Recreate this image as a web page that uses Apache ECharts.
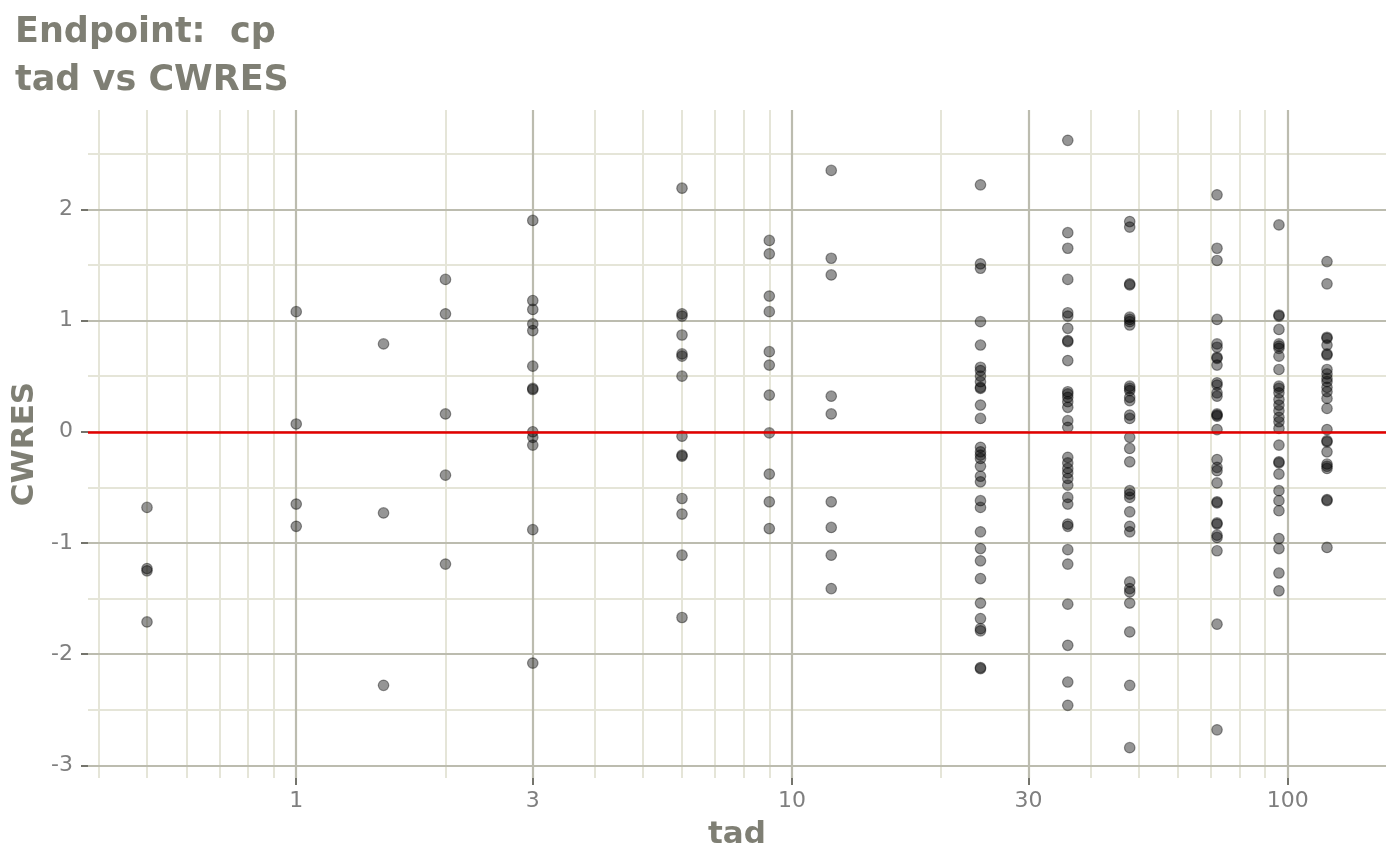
<!DOCTYPE html>
<html>
<head>
<meta charset="utf-8">
<script src="https://cdn.jsdelivr.net/npm/echarts@6/dist/echarts.min.js"></script>
<style>
html,body{margin:0;padding:0;background:#fff;}
#chart{width:1400px;height:865px;}
</style>
</head>
<body>
<div id="chart"></div>
<script>
// ---- data ----
const tadTimes = [0.5, 1, 1.5, 2, 3, 6, 9, 12, 24, 36, 48, 72, 96, 120];
const cwres_0_5 = [-0.68, -1.23, -1.25, -1.71];
const cwres_1 = [1.08, 0.07, -0.65, -0.85];
const cwres_1_5 = [0.79, -0.73, -2.28];
const cwres_2 = [1.37, 1.06, 0.16, -0.39, -1.19];
const cwres_3 = [1.90, 1.18, 1.10, 0.97, 0.91, 0.59, 0.39, 0.38, 0.00, -0.05, -0.12, -0.88, -2.08];
const cwres_6 = [2.19, 1.06, 1.04, 0.87, 0.70, 0.68, 0.50, -0.04, -0.21, -0.22, -0.60, -0.74, -1.11, -1.67];
const cwres_9 = [1.72, 1.60, 1.22, 1.08, 0.72, 0.60, 0.33, -0.01, -0.38, -0.63, -0.87];
const cwres_12 = [2.35, 1.56, 1.41, 0.32, 0.16, -0.63, -0.86, -1.11, -1.41];
const cwres_24 = [2.22, 1.51, 1.47, 0.99, 0.78, 0.58, 0.55, 0.50, 0.45, 0.40, 0.39, 0.24, 0.12, -0.14, -0.18, -0.21, -0.24, -0.31, -0.40, -0.45, -0.62, -0.68, -0.90, -1.05, -1.16, -1.32, -1.54, -1.68, -1.77, -1.79, -2.12, -2.13];
const cwres_36 = [2.62, 1.79, 1.65, 1.37, 1.07, 1.04, 0.93, 0.82, 0.81, 0.64, 0.36, 0.34, 0.31, 0.27, 0.22, 0.10, 0.04, -0.23, -0.28, -0.33, -0.37, -0.42, -0.48, -0.59, -0.65, -0.83, -0.85, -1.06, -1.19, -1.55, -1.92, -2.25, -2.46];
const cwres_48 = [1.89, 1.84, 1.33, 1.32, 1.03, 1.01, 0.99, 0.96, 0.41, 0.39, 0.37, 0.31, 0.28, 0.15, 0.12, -0.05, -0.15, -0.27, -0.53, -0.56, -0.59, -0.72, -0.85, -0.90, -1.35, -1.41, -1.44, -1.54, -1.80, -2.28, -2.84];
const cwres_72 = [2.13, 1.65, 1.54, 1.01, 0.79, 0.76, 0.67, 0.66, 0.60, 0.44, 0.42, 0.35, 0.32, 0.16, 0.15, 0.14, 0.02, -0.25, -0.32, -0.35, -0.46, -0.63, -0.64, -0.82, -0.83, -0.93, -0.95, -1.07, -1.73, -2.68];
const cwres_96 = [1.86, 1.05, 1.04, 0.92, 0.79, 0.77, 0.75, 0.68, 0.56, 0.41, 0.39, 0.35, 0.29, 0.24, 0.19, 0.13, 0.09, 0.03, -0.12, -0.27, -0.28, -0.38, -0.53, -0.62, -0.71, -0.96, -1.05, -1.27, -1.43];
const cwres_120 = [1.53, 1.33, 0.85, 0.84, 0.78, 0.70, 0.69, 0.56, 0.52, 0.48, 0.45, 0.40, 0.36, 0.30, 0.21, 0.02, -0.08, -0.09, -0.18, -0.29, -0.31, -0.33, -0.61, -0.62, -1.04];
const cwresByTime = [cwres_0_5, cwres_1, cwres_1_5, cwres_2, cwres_3, cwres_6, cwres_9, cwres_12, cwres_24, cwres_36, cwres_48, cwres_72, cwres_96, cwres_120];

const xMajorTicks = [1, 3, 10, 30, 100];
const xMinorTicks = [0.4, 0.5, 0.6, 0.7, 0.8, 0.9, 2, 4, 5, 6, 7, 8, 9, 20, 40, 50, 60, 70, 80, 90];
const yMajorTicks = [-3, -2, -1, 0, 1, 2];
const yMinorTicks = [-2.5, -1.5, -0.5, 0.5, 1.5, 2.5];
const refLineY = 0;

// ---- build points ----
const points = [];
tadTimes.forEach((t, i) => cwresByTime[i].forEach(v => points.push([t, v])));

// ranges with 5% expansion (x in log space)
const lx = tadTimes.map(Math.log10);
const lxMin = Math.min(...lx), lxMax = Math.max(...lx);
const lxPad = (lxMax - lxMin) * 0.05;
const xMin = Math.pow(10, lxMin - lxPad), xMax = Math.pow(10, lxMax + lxPad);
const allY = points.map(p => p[1]);
const yLo = Math.min(...allY), yHi = Math.max(...allY);
const yPad = (yHi - yLo) * 0.05;
const yMin = yLo - yPad, yMax = yHi + yPad;

const textCol = '#7f7f74';
const labelCol = '#7f7f7f';
const majorCol = '#bcbcaf';
const minorCol = '#e5e5d8';
const tickCol = '#74746c';
const FONT = 'DejaVu Sans';

const chart = echarts.init(document.getElementById('chart'), null, {renderer: 'canvas'});
chart.setOption({
  backgroundColor: '#ffffff',
  animation: false,
  title: {
    text: 'Endpoint:  cp\ntad vs CWRES',
    left: 15, top: 9, padding: 0,
    textStyle: {fontFamily: FONT, fontWeight: 'bold', fontSize: 35, lineHeight: 48, color: textCol}
  },
  grid: {left: 88, right: 14, top: 110, bottom: 87, containLabel: false},
  xAxis: [
    {
      type: 'log', position: 'bottom', min: xMin, max: xMax, z: 0,
      axisLine: {show: false, onZero: false},
      axisTick: {show: false, customValues: xMinorTicks},
      axisLabel: {show: false, customValues: xMinorTicks},
      splitLine: {show: true, lineStyle: {color: minorCol, width: 2}}
    },
    {
      type: 'log', position: 'bottom', min: xMin, max: xMax, z: 1,
      name: 'tad', nameLocation: 'middle', nameGap: 41,
      nameTextStyle: {fontFamily: FONT, fontWeight: 'bold', fontSize: 31, color: textCol},
      axisLine: {show: false, onZero: false},
      axisTick: {show: true, customValues: xMajorTicks, length: 7, lineStyle: {color: tickCol, width: 2}},
      axisLabel: {show: true, customValues: xMajorTicks, margin: 12, fontFamily: FONT, fontSize: 22, color: labelCol,
        formatter: v => String(v)},
      splitLine: {show: true, lineStyle: {color: majorCol, width: 2.2}}
    }
  ],
  yAxis: [
    {
      type: 'value', position: 'left', min: yMin, max: yMax, z: 0,
      axisLine: {show: false, onZero: false},
      axisTick: {show: false, customValues: yMinorTicks},
      axisLabel: {show: false, customValues: yMinorTicks},
      splitLine: {show: true, lineStyle: {color: minorCol, width: 2}}
    },
    {
      type: 'value', position: 'left', min: yMin, max: yMax, z: 1,
      name: 'CWRES', nameLocation: 'middle', nameGap: 38,
      nameTextStyle: {fontFamily: FONT, fontWeight: 'bold', fontSize: 31, color: textCol},
      axisLine: {show: false, onZero: false},
      axisTick: {show: true, customValues: yMajorTicks, length: 7, lineStyle: {color: tickCol, width: 2}},
      axisLabel: {show: true, customValues: yMajorTicks, margin: 15, fontFamily: FONT, fontSize: 22, color: labelCol,
        formatter: v => String(Math.round(v))},
      splitLine: {show: true, lineStyle: {color: majorCol, width: 2.2}}
    }
  ],
  series: [
    {
      type: 'scatter', xAxisIndex: 1, yAxisIndex: 1, z: 3,
      symbol: 'circle', symbolSize: 10.5,
      itemStyle: {color: 'rgba(0,0,0,0.52)', borderColor: 'rgba(0,0,0,0.5)', borderWidth: 1.2},
      data: points
    },
    {
      type: 'line', xAxisIndex: 1, yAxisIndex: 1, z: 4, data: [],
      markLine: {
        silent: true, symbol: ['none', 'none'], animation: false,
        label: {show: false},
        lineStyle: {color: '#e30000', width: 2.6, type: 'solid'},
        data: [{yAxis: refLineY}]
      }
    }
  ]
});
</script>
</body>
</html>
